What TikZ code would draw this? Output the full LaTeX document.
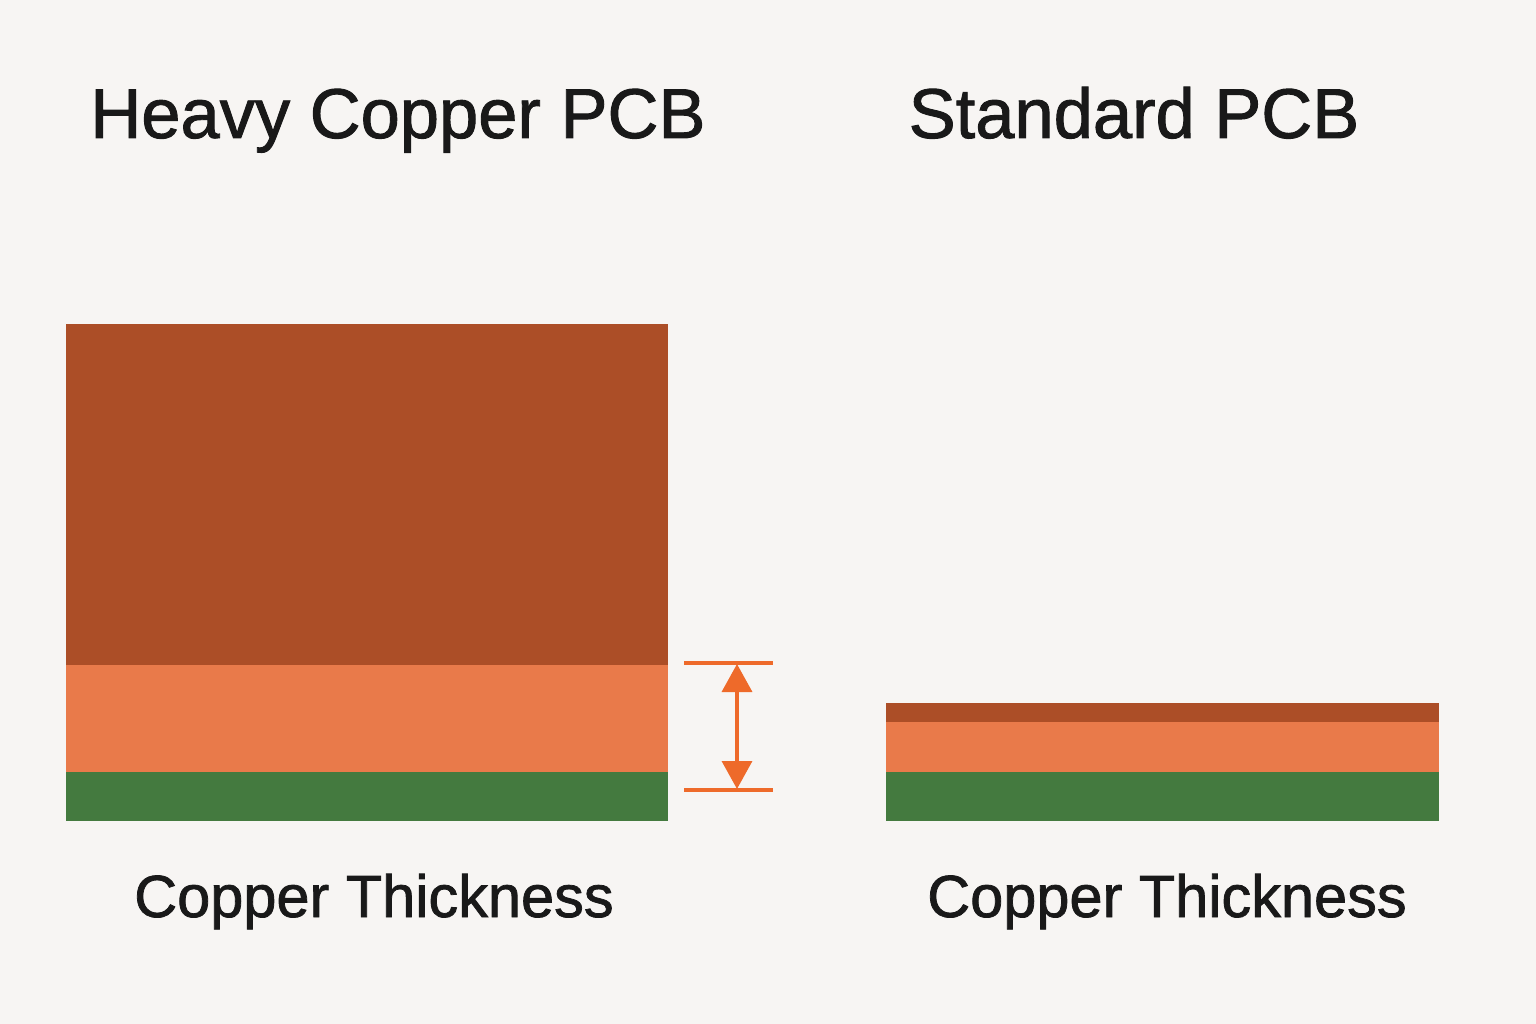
\documentclass[tikz,border=0pt]{standalone}
\usepackage{fontspec}
\setmainfont{Liberation Sans}
\newfontfamily\labelfont[FakeBold=1.3]{Liberation Sans}
\usetikzlibrary{arrows.meta}
\definecolor{bg}{HTML}{F7F5F3}
\definecolor{copperdark}{HTML}{AC4E27}
\definecolor{copperlight}{HTML}{E97A4A}
\definecolor{boardgreen}{HTML}{447A3F}
\definecolor{dimorange}{HTML}{EE6A2A}
\tikzset{
  title/.style={anchor=base, inner sep=0pt, text=black!90, font=\labelfont\fontsize{70.5}{84}\selectfont},
  caption/.style={anchor=base, inner sep=0pt, text=black!90, font=\labelfont\fontsize{59.5}{70}\selectfont},
  dimline/.style={draw=dimorange, line width=3.5pt},
  dimarrow/.style={draw=dimorange, line width=3.5pt, {Triangle[length=28pt,width=30pt,fill=dimorange]}-{Triangle[length=28pt,width=30pt,fill=dimorange]}, shorten <=1pt, shorten >=1pt}
}
\begin{document}
\begin{tikzpicture}[x=1pt,y=-1pt]
\fill[bg] (0,0) rectangle (1536,1024);
\useasboundingbox (0,0) rectangle (1536,1024);
% Titles
\node[title] (t1) at (398,138) {Heavy Copper PCB};
\node[title] (t2) at (1134,138) {Standard PCB};
% Heavy copper stack
\fill[copperdark] (66,324) rectangle (668,665);
\fill[copperlight] (66,665) rectangle (668,772);
\fill[boardgreen] (66,772) rectangle (668,821);
% Standard stack
\fill[copperdark] (886,703) rectangle (1439,722);
\fill[copperlight] (886,722) rectangle (1439,772);
\fill[boardgreen] (886,772) rectangle (1439,821);
% Dimension
\coordinate (tl) at (684,663);
\coordinate (tr) at (773,663);
\coordinate (bl) at (684,790);
\coordinate (br) at (773,790);
\coordinate (atop) at (737,663);
\coordinate (abot) at (737,790);
\draw[dimline] (tl) -- (tr);
\draw[dimline] (bl) -- (br);
\draw[dimarrow] (atop) -- (abot);
% Captions
\node[caption] (c1) at (374,917) {Copper Thickness};
\node[caption] (c2) at (1167,917) {Copper Thickness};
\end{tikzpicture}
\end{document}
